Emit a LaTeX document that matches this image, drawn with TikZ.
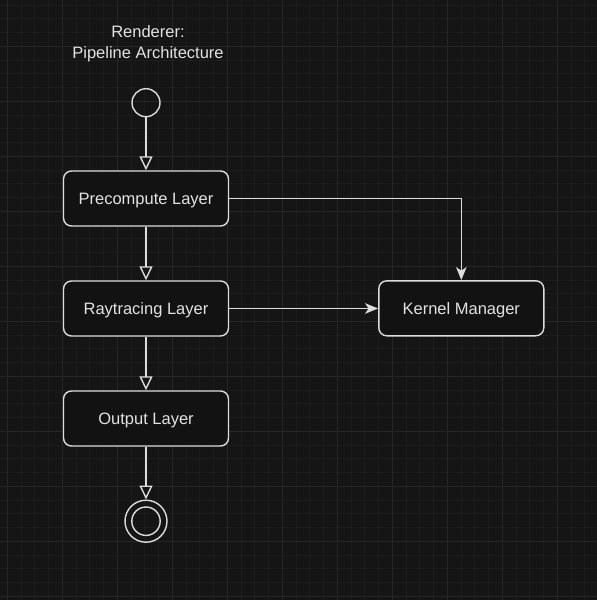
\documentclass[tikz,border=0pt]{standalone}
\usepackage{fontspec}
\setmainfont{Liberation Sans}
\usetikzlibrary{arrows.meta}
\definecolor{bgc}{HTML}{151515}
\definecolor{boxfill}{HTML}{121212}
\definecolor{gmin}{HTML}{1B1B1B}
\definecolor{gmaj}{HTML}{262626}
\definecolor{linec}{HTML}{DCDCDC}
\definecolor{textc}{HTML}{E2E2E2}
\begin{document}
\begin{tikzpicture}[x=1pt,y=-1pt,
  lbl/.style={text=textc,font=\fontsize{16.5}{21}\selectfont},
  layer/.style={lbl,draw=linec,fill=boxfill,line width=1.4pt,rounded corners=8pt,
    minimum width=165pt,minimum height=55pt,inner sep=0pt,text height=13.8pt,text depth=2.2pt},
  startc/.style={draw=linec,line width=1.4pt,circle,minimum size=28pt,inner sep=0pt},
  endc/.style={draw=linec,line width=1.4pt,circle,minimum size=42pt,inner sep=0pt},
  flow/.style={draw=linec,line width=1.4pt,-{Triangle[open,length=14pt,width=13pt,fill=bgc]}},
  dep/.style={draw=linec,line width=1.5pt,-{Stealth[length=13pt,width=10.5pt,inset=3.5pt]}}]
\fill[bgc] (0,0) rectangle (597,600);
\useasboundingbox (0,0) rectangle (597,600);
\foreach \i in {0,...,43} {
  \draw[gmin,line width=0.8pt] ({7.3+13.75*\i},0) -- ({7.3+13.75*\i},600);
  \draw[gmin,line width=0.8pt] (0,{5.05+13.75*\i}) -- (597,{5.05+13.75*\i});
}
\foreach \i in {0,...,10} {
  \draw[gmaj,line width=0.9pt] ({7.3+55*\i},0) -- ({7.3+55*\i},600);
  \draw[gmaj,line width=0.9pt] (0,{46.3+55*\i}) -- (597,{46.3+55*\i});
}
\node[lbl,align=center] (title) at (148,43.3) {Renderer:\\Pipeline Architecture};
\node[startc] (start) at (146,102.7) {};
\node[layer] (pre) at (146,198.5) {Precompute Layer};
\node[layer] (ray) at (146,308.5) {Raytracing Layer};
\node[layer] (out) at (146,418.5) {Output Layer};
\node[layer] (kern) at (461.3,308.3) {Kernel Manager};
\node[endc] (end) at (146,521.2) {};
\node[draw=linec,line width=1.4pt,circle,minimum size=28.4pt,inner sep=0pt] (endin) at (end.center) {};
\draw[flow] (start) -- (pre);
\draw[flow] (pre) -- (ray);
\draw[flow] (ray) -- (out);
\draw[flow] (out) -- (end);
\draw[dep] (pre.east) -| (kern.north);
\draw[dep] (ray.east) -- (ray.east -| kern.west);
\end{tikzpicture}
\end{document}
